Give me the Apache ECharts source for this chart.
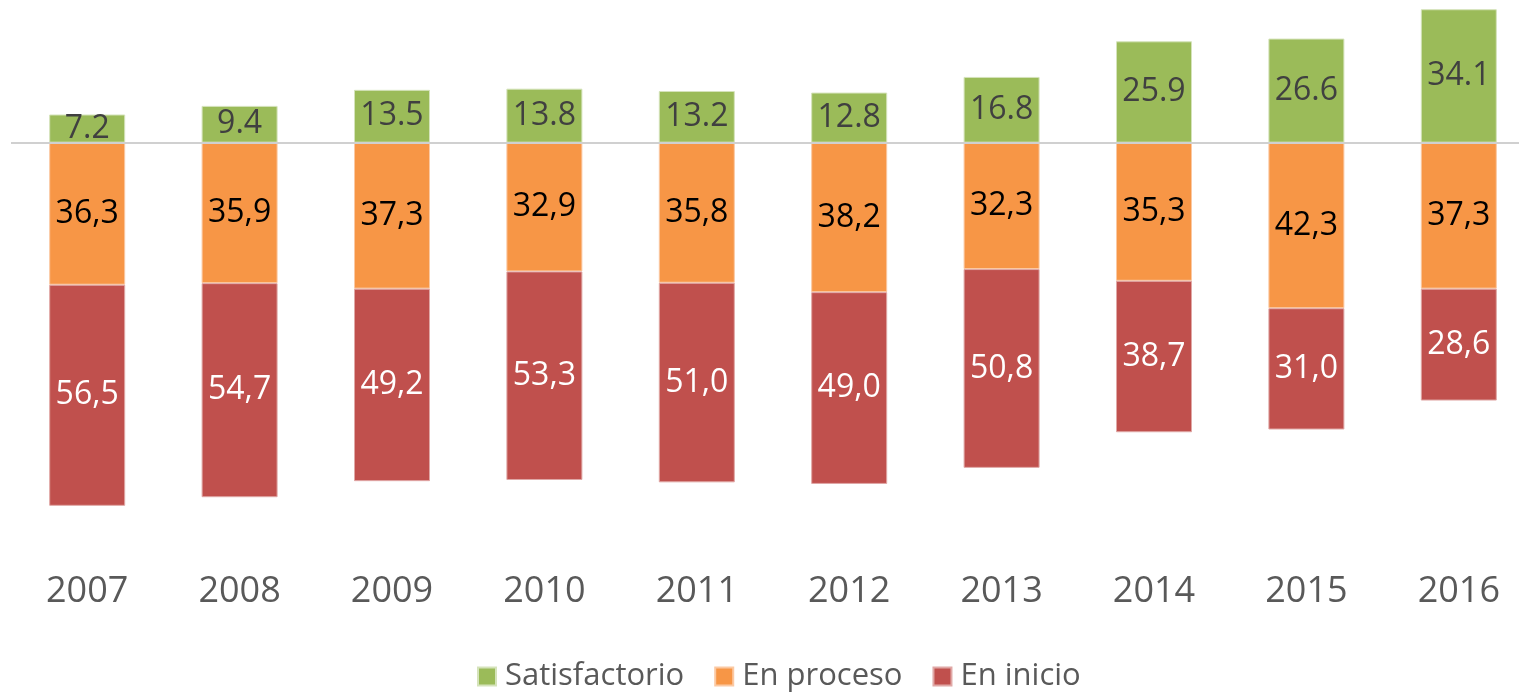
<!DOCTYPE html>
<html>
<head>
<meta charset="utf-8">
<script src="https://cdn.jsdelivr.net/npm/echarts@6/dist/echarts.min.js"></script>
<style>
  html, body { margin: 0; padding: 0; background: #fff; }
  #chart { width: 1519px; height: 693px; }
</style>
</head>
<body>
<div id="chart"></div>
<script>
const years = ["2007", "2008", "2009", "2010", "2011", "2012", "2013", "2014", "2015", "2016"];
const satisfactorio = [7.2, 9.4, 13.5, 13.8, 13.2, 12.8, 16.8, 25.9, 26.6, 34.1];
const enProceso = [36.3, 35.9, 37.3, 32.9, 35.8, 38.2, 32.3, 35.3, 42.3, 37.3];
const enInicio = [56.5, 54.7, 49.2, 53.3, 51.0, 49.0, 50.8, 38.7, 31.0, 28.6];

const font = "'Open Sans', 'Noto Sans', sans-serif";
const comma = (p) => Math.abs(p.value).toFixed(1).replace(".", ",");

let myChart = echarts.init(document.getElementById("chart"));

myChart.setOption({
  animation: false,
  textStyle: { fontFamily: font },
  legend: {
    bottom: -4,
    left: 472,
    itemWidth: 18,
    itemHeight: 18,
    itemGap: 30,
    icon: "rect",
    textStyle: { fontSize: 31, color: "#595959", fontFamily: font, padding: [0, 0, 0, 4] },
    data: ["Satisfactorio", "En proceso", "En inicio"],
  },
  grid: {
    left: 11,
    width: 1524,
    top: 5.7,
    bottom: 159,
    containLabel: false,
    outerBoundsMode: "none",
  },
  xAxis: {
    type: "category",
    data: years,
    axisLine: { show: false },
    axisTick: { show: false },
    axisLabel: { fontSize: 36, color: "#595959", margin: 40, fontFamily: font },
  },
  yAxis: {
    type: "value",
    min: -100,
    max: 35,
    show: false,
    splitLine: { show: false },
  },
  series: [
    {
      name: "Satisfactorio",
      type: "bar",
      stack: "total",
      barWidth: 76,
      data: satisfactorio,
      itemStyle: { color: "#9BBB59", borderColor: "#d5e3bb", borderWidth: 1 },
      label: {
        show: true,
        position: "inside",
        fontSize: 32,
        color: "#404040",
        fontFamily: font,
        formatter: (p) => p.value.toFixed(1),
      },
      markLine: {
        silent: true,
        symbol: "none",
        label: { show: false },
        lineStyle: { color: "#d0d0d0", width: 2, type: "solid" },
        data: [{ yAxis: 0 }],
        z: 10,
      },
    },
    {
      name: "En proceso",
      type: "bar",
      stack: "total",
      barWidth: 76,
      data: enProceso.map((v) => -v),
      itemStyle: { color: "#F79646", borderColor: "#fbc9a3", borderWidth: 1 },
      label: {
        show: true,
        position: "inside",
        fontSize: 32,
        color: "#000000",
        fontFamily: font,
        formatter: comma,
      },
    },
    {
      name: "En inicio",
      type: "bar",
      stack: "total",
      barWidth: 76,
      data: enInicio.map((v) => -v),
      itemStyle: { color: "#C0504D", borderColor: "#e0a8a6", borderWidth: 1 },
      label: {
        show: true,
        position: "inside",
        fontSize: 32,
        color: "#ffffff",
        fontFamily: font,
        formatter: comma,
      },
    },
  ],
});
</script>
</body>
</html>
